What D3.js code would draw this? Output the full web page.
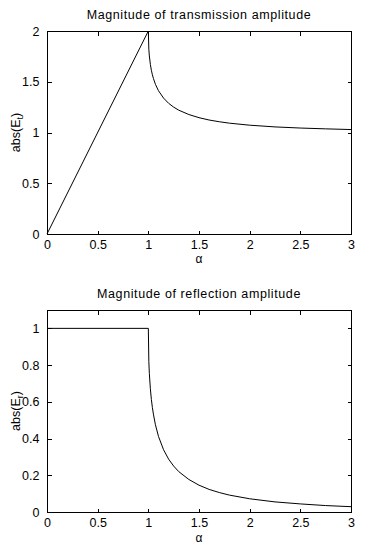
<!DOCTYPE html>
<html><head><meta charset="utf-8">
<script src="https://cdn.jsdelivr.net/npm/d3@7"></script>
<style>body{margin:0;background:#fff}svg{display:block}text{font-family:"Liberation Sans",Arial,sans-serif;fill:#000}</style>
</head><body><svg id="c" width="365" height="552"></svg>
<script>
// Data
const alpha = [0, 1, 1.005, 1.01, 1.02, 1.03, 1.04, 1.05, 1.07, 1.1, 1.15, 1.2, 1.25, 1.3, 1.4, 1.5, 1.6, 1.7, 1.8, 2.0, 2.25, 2.5, 2.75, 3.0];
const transmission = [0, 2, 1.819, 1.754, 1.671, 1.613, 1.569, 1.533, 1.475, 1.412, 1.339, 1.288, 1.25, 1.220, 1.177, 1.146, 1.123, 1.106, 1.092, 1.072, 1.055, 1.044, 1.036, 1.029];
const reflection = [1, 1, 0.819, 0.754, 0.671, 0.613, 0.569, 0.533, 0.475, 0.412, 0.339, 0.288, 0.25, 0.220, 0.177, 0.146, 0.123, 0.106, 0.092, 0.072, 0.055, 0.044, 0.035, 0.029];
const xTicks = [0, 0.5, 1, 1.5, 2, 2.5, 3];
const yTicksTop = [0, 0.5, 1, 1.5, 2];
const yTicksBottom = [0, 0.2, 0.4, 0.6, 0.8, 1];

const svg = d3.select("#c");
const panels = [
  {title: "Magnitude of transmission amplitude", sub: "t", vals: transmission, yDom: [0, 2], yTicks: yTicksTop,
   top: 31, bottom: 234, titleY: 19, tickY: 249, xlabY: 263},
  {title: "Magnitude of reflection amplitude", sub: "r", vals: reflection, yDom: [0, 1.1], yTicks: yTicksBottom,
   top: 310, bottom: 512, titleY: 298, tickY: 527, xlabY: 542}
];
const L = 47, R = 351, FS = 12.5;
const fmt = d => String(d);

panels.forEach(p => {
  const x = d3.scaleLinear().domain([0, 3]).range([L, R]);
  const y = d3.scaleLinear().domain(p.yDom).range([p.bottom, p.top]);
  const g = svg.append("g");
  g.append("rect").attr("x", L + 0.5).attr("y", p.top + 0.5).attr("width", R - L).attr("height", p.bottom - p.top)
    .attr("fill", "none").attr("stroke", "#000").attr("stroke-width", 1).attr("shape-rendering", "crispEdges");
  const ax = g.append("g").attr("transform", `translate(0,${p.bottom + 0.5})`)
    .call(d3.axisBottom(x).tickValues(xTicks).tickSize(-4).tickFormat(fmt));
  const axT = g.append("g").attr("transform", `translate(0,${p.top + 0.5})`)
    .call(d3.axisTop(x).tickValues(xTicks).tickSize(-4).tickFormat(""));
  const ay = g.append("g").attr("transform", `translate(${L + 0.5},0)`)
    .call(d3.axisLeft(y).tickValues(p.yTicks).tickSize(-4).tickPadding(8).tickFormat(fmt));
  const ayR = g.append("g").attr("transform", `translate(${R + 0.5},0)`)
    .call(d3.axisRight(y).tickValues(p.yTicks).tickSize(-4).tickFormat(""));
  [ax, axT, ay, ayR].forEach(a => {
    a.select(".domain").remove();
    a.selectAll("line").attr("stroke", "#000").attr("shape-rendering", "crispEdges");
    a.selectAll("text").attr("font-family", '"Liberation Sans",Arial,sans-serif').attr("font-size", FS).attr("fill", "#000");
  });
  ax.selectAll("text").attr("dy", null).attr("y", p.tickY - p.bottom - 0.5);
  const line = d3.line().x((d, i) => x(alpha[i])).y(d => y(d));
  g.append("path").datum(p.vals).attr("d", line).attr("fill", "none").attr("stroke", "#000").attr("stroke-width", 1);
  g.append("text").attr("x", (L + R) / 2).attr("y", p.titleY).attr("text-anchor", "middle")
    .attr("font-size", FS).attr("letter-spacing", 0.6).text(p.title);
  g.append("text").attr("x", (L + R) / 2).attr("y", p.xlabY).attr("text-anchor", "middle")
    .attr("font-size", 12).text("α");
  const yl = g.append("text").attr("transform", `translate(20,${(p.top + p.bottom) / 2}) rotate(-90)`)
    .attr("text-anchor", "middle").attr("font-size", FS);
  yl.append("tspan").text("abs(E");
  yl.append("tspan").attr("font-size", 9).attr("dy", 3).text(p.sub);
  yl.append("tspan").attr("dy", -3).text(")");
});
</script></body></html>
